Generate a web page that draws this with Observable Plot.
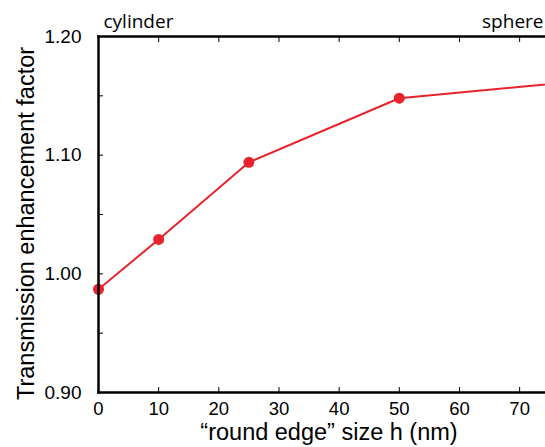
<!DOCTYPE html>
<html><head><meta charset="utf-8">
<script src="https://cdn.jsdelivr.net/npm/d3@7"></script>
<script src="https://cdn.jsdelivr.net/npm/@observablehq/plot@0.6"></script>
<style>body{margin:0;background:#fff}</style>
</head><body><div id="chart"></div>
<script>
const sizeH = [0, 10, 25, 50, 100];
const factor = [0.987, 1.029, 1.094, 1.148, 1.172];
const dotSizes = [0, 10, 25, 50];
const xTicks = [0, 10, 20, 30, 40, 50, 60, 70];
const yTicks = [0.90, 0.95, 1.00, 1.05, 1.10, 1.15, 1.20];
const yLabels = [0.90, 1.00, 1.10, 1.20];
const data = sizeH.map((h, i) => ({h, f: factor[i]}));
const dots = data.filter(d => dotSizes.includes(d.h));
const red = "#e8232b";
const chart = Plot.plot({
  width: 545, height: 447,
  marginLeft: 98, marginRight: 0, marginTop: 36, marginBottom: 55,
  style: {fontFamily: "Liberation Sans, Arial, sans-serif", background: "white"},
  x: {domain: [0, 74.3], axis: null},
  y: {domain: [0.90, 1.20], axis: null},
  marks: [
    Plot.line(data, {x: "h", y: "f", stroke: red, strokeWidth: 2, clip: true}),
    Plot.dot(dots, {x: "h", y: "f", r: 5.5, fill: red, stroke: "none"}),
    Plot.axisX({ticks: xTicks, anchor: "bottom", tickSize: -5, tickPadding: 14, tickFormat: d => d, fontSize: 18.5, label: null, strokeWidth: 1}),
    Plot.axisX({ticks: xTicks, anchor: "top", tickSize: -5, tickFormat: () => "", label: null, strokeWidth: 1}),
    Plot.axisY({ticks: yTicks, anchor: "left", tickSize: -5, tickPadding: 22, tickFormat: d => yLabels.some(v => Math.abs(v - d) < 1e-9) ? d.toFixed(2) : "", fontSize: 19, label: null, strokeWidth: 1}),
    Plot.frame({anchor: "left", strokeWidth: 2.5}),
    Plot.frame({anchor: "bottom", strokeWidth: 2.5}),
    Plot.frame({anchor: "top", strokeWidth: 2.5}),
    Plot.text(["cylinder"], {frameAnchor: "top-left", dx: 5, dy: -22, textAnchor: "start", fontSize: 19, fontFamily: "Open Sans", text: d => d}),
    Plot.text(["sphere"], {frameAnchor: "top-right", dx: -2, dy: -22, textAnchor: "end", fontSize: 19, fontFamily: "Open Sans", text: d => d}),
    Plot.text(["\u201cround edge\u201d size h (nm)"], {frameAnchor: "bottom", dx: 7, dy: 47, fontSize: 23.5, text: d => d}),
    Plot.text(["Transmission enhancement factor"], {frameAnchor: "left", dx: -72, dy: 9, rotate: -90, textAnchor: "middle", fontSize: 23.5, text: d => d})
  ]
});
document.getElementById("chart").append(chart);
</script></body></html>
